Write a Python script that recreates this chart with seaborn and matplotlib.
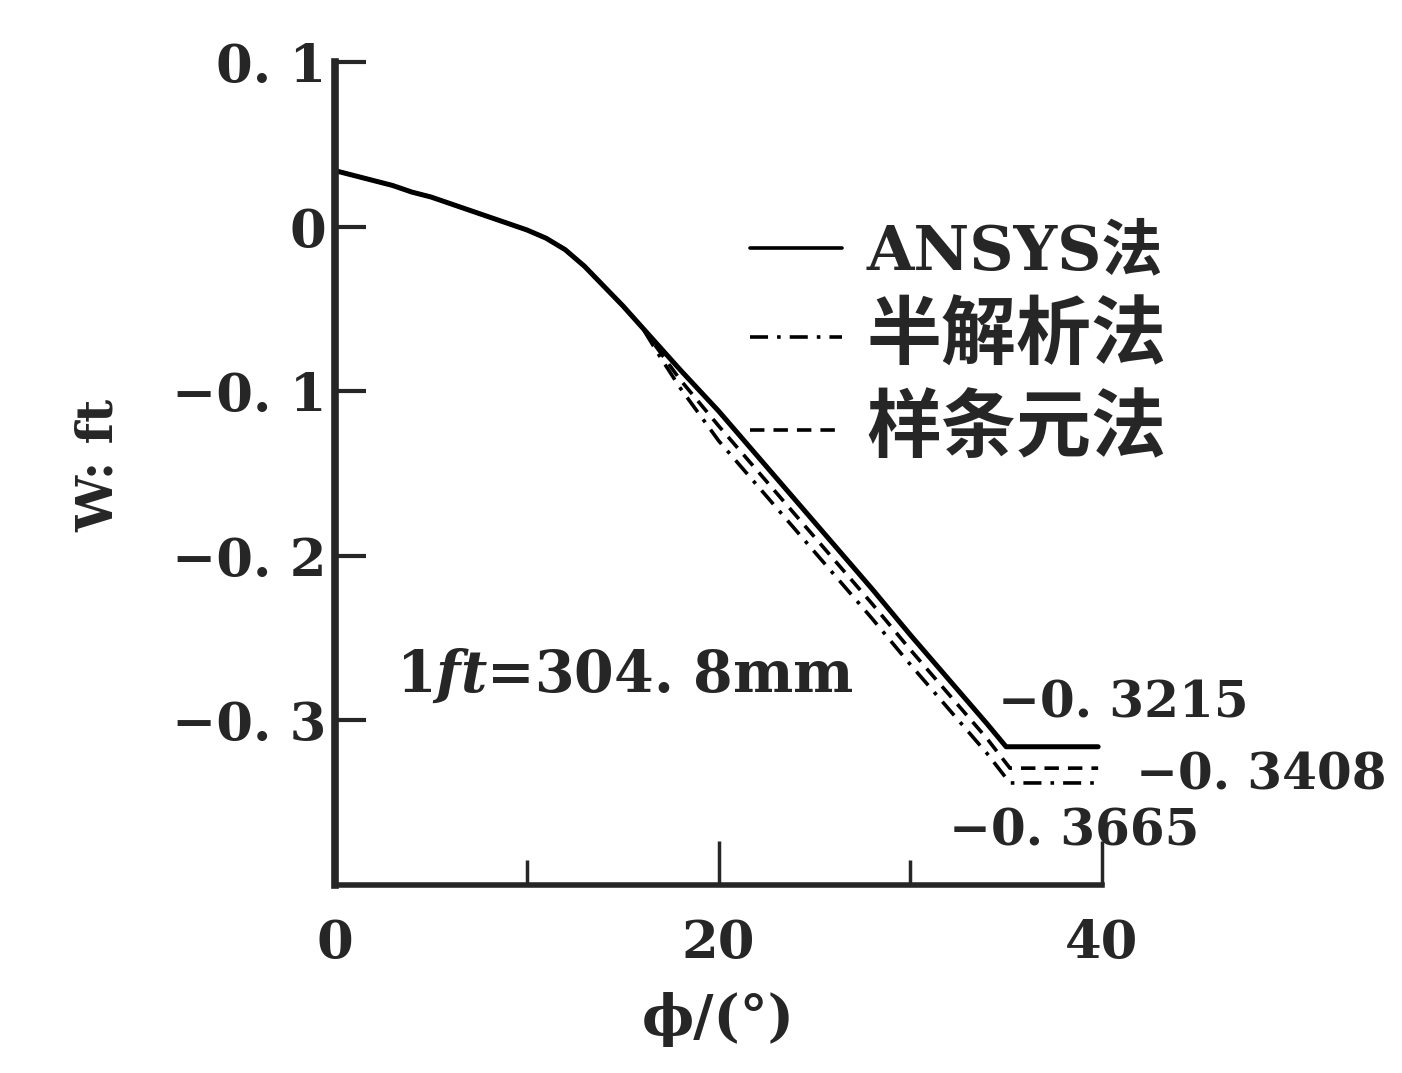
import numpy as np
import pandas as pd
import matplotlib
matplotlib.use('Agg')
import matplotlib.pyplot as plt
import seaborn as sns

sns.set_style('ticks')
plt.rcParams['font.family'] = ['DejaVu Serif', 'Noto Sans CJK SC']
plt.rcParams['font.weight'] = 'bold'
plt.rcParams['mathtext.fontset'] = 'custom'
plt.rcParams['mathtext.rm'] = 'DejaVu Serif:bold'
plt.rcParams['mathtext.it'] = 'DejaVu Serif:italic:bold'
plt.rcParams['axes.unicode_minus'] = True

#%% data

methods = ['ANSYS法', '半解析法', '样条元法']

# the three curves coincide up to about 16 deg
phi_common = [0, 1, 2, 3, 4, 5, 6, 7, 8, 9, 10, 11, 12, 13, 14, 15, 16]
w_common = [0.034, 0.031, 0.028, 0.025, 0.021, 0.018, 0.014, 0.010, 0.006,
            0.002, -0.002, -0.007, -0.014, -0.024, -0.036, -0.048, -0.061]

phi_ansys = [17, 18, 20, 22, 24, 26, 28, 30, 32, 34, 35, 39.8]
w_ansys = [-0.074, -0.087, -0.112, -0.139, -0.166, -0.193, -0.220, -0.248,
           -0.275, -0.302, -0.316, -0.316]

phi_semi = [17, 18, 20, 22, 24, 26, 28, 30, 32, 34, 35.2, 39.8]
w_semi = [-0.080, -0.098, -0.130, -0.157, -0.184, -0.211, -0.238, -0.266,
          -0.293, -0.320, -0.338, -0.338]

phi_spline = [17, 18, 20, 22, 24, 26, 28, 30, 32, 34, 35.2, 39.8]
w_spline = [-0.077, -0.093, -0.121, -0.148, -0.175, -0.202, -0.229, -0.257,
            -0.284, -0.311, -0.329, -0.329]

end_labels = ['\u22120. 3215', '\u22120. 3408', '\u22120. 3665']

yticks = [0.1, 0, -0.1, -0.2, -0.3]
yticklabels = ['0. 1', '0', '\u22120. 1', '\u22120. 2', '\u22120. 3']
xticks = [0, 20, 40]

#%% long-form table for seaborn

rows = []
for name, phi, w in zip(methods, [phi_ansys, phi_semi, phi_spline],
                        [w_ansys, w_semi, w_spline]):
    for p, v in zip(phi_common + phi, w_common + w):
        rows.append({'phi': p, 'W': v, 'method': name})
df = pd.DataFrame(rows)

#%% plot

fig = plt.figure(figsize=(14.02, 10.73), dpi=100)
ax = fig.add_axes([0.239, 0.1752, 0.547, 0.767])

sns.lineplot(data=df, x='phi', y='W', hue='method', style='method',
             hue_order=methods, style_order=methods,
             palette=['k', 'k', 'k'],
             dashes={'ANSYS法': '', '半解析法': (5, 2.5, 1, 2.5), '样条元法': (4, 2.5)},
             sort=False, ax=ax, lw=2.6)
for ln in ax.lines[:1]:
    ln.set_linewidth(3.6)

ax.set_xlim(0, 40)
ax.set_ylim(-0.4, 0.1)
ax.set_yticks(yticks)
ax.set_yticklabels(yticklabels)
ax.set_xticks(xticks)
ax.set_xticklabels([str(t) for t in xticks])
ax.set_xticks([10, 30], minor=True)

for s in ['top', 'right']:
    ax.spines[s].set_visible(False)
ax.spines['left'].set_linewidth(5.5)
ax.spines['bottom'].set_linewidth(4)

ax.tick_params(axis='y', direction='in', length=22, width=3, labelsize=38, pad=6)
ax.tick_params(axis='x', which='major', direction='in', length=32, width=2.5,
               labelsize=38, pad=24)
ax.tick_params(axis='x', which='minor', direction='in', length=18, width=2.5)

ax.set_xlabel('\u03d5/(°)', fontsize=40, fontweight='bold')
ax.xaxis.set_label_coords(0.5, -0.13)
ax.set_ylabel('W: ft', fontsize=36, fontweight='bold')
ax.yaxis.set_label_coords(-0.275, 0.51)

# labels of the end values
label_pos = [(34.6, -0.290), (41.8, -0.334), (32.0, -0.368)]
for txt, (px, py) in zip(end_labels, label_pos):
    ax.text(px, py, txt, fontsize=36, fontweight='bold', ha='left', va='center',
            clip_on=False)

ax.text(3.2, -0.273, '1$ft$=304. 8mm', fontsize=41, fontweight='bold',
        ha='left', va='center')

handles, labels = ax.get_legend_handles_labels()
leg = ax.legend(handles, labels, loc='upper left',
                bbox_to_anchor=(750 / 1402, 1 - 222 / 1073),
                bbox_transform=fig.transFigure,
                frameon=False, fontsize=44, handlelength=1.5, handletextpad=0.4,
                labelspacing=0.32, borderpad=0, borderaxespad=0)
for t in leg.get_texts()[1:]:
    t.set_fontsize(54)

fig.savefig('out.png', dpi=100)
